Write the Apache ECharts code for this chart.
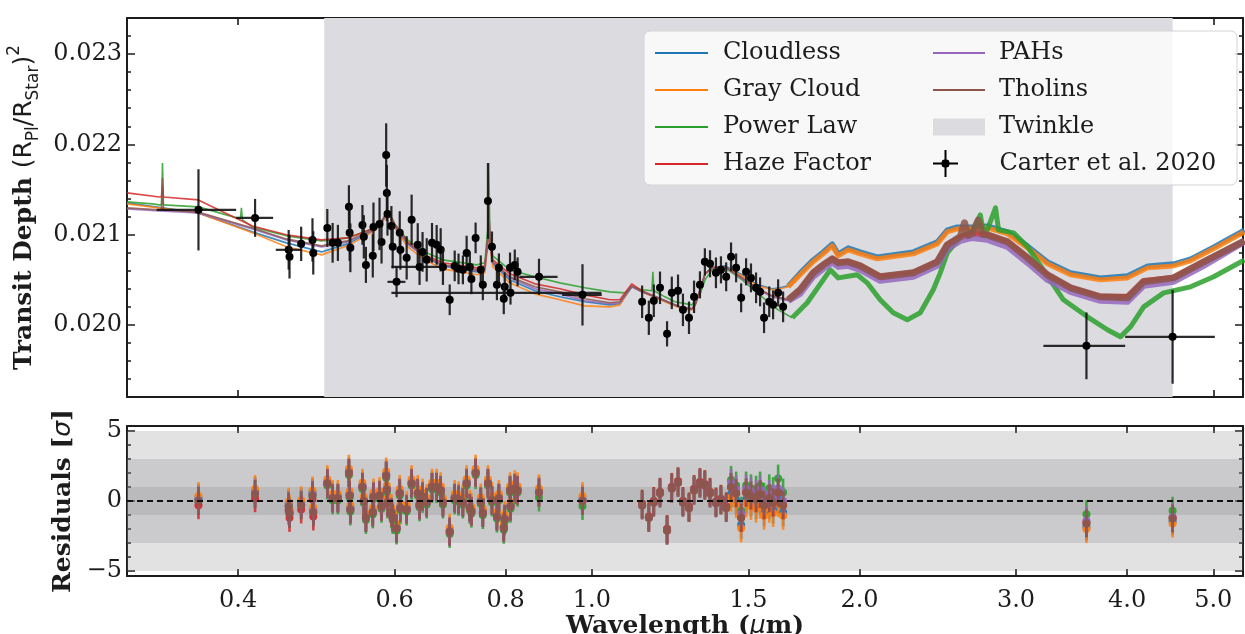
<!DOCTYPE html>
<html>
<head>
<meta charset="utf-8">
<script src="https://cdn.jsdelivr.net/npm/echarts@6/dist/echarts.min.js"></script>
<style>
  html, body { margin: 0; padding: 0; background: #ffffff; }
  #chart { width: 1245px; height: 634px; }
</style>
</head>
<body>
<div id="chart"></div>
<script>
// ---------------------------------------------------------------------------
// Transmission spectrum: six atmosphere models, Carter et al. 2020 data,
// and the residuals of the data against every model (in sigma).
// Model spectra: [wavelength (um), transit depth]
// ---------------------------------------------------------------------------
const cloudless = [
  [0.300,0.021351],[0.3608,0.021240],[0.4151,0.021030],[0.4533,0.020908],[0.4965,0.020808],[0.5312,0.020897],
  [0.5697,0.021052],[0.5816,0.021152],[0.5876,0.021229],[0.5937,0.021196],[0.6000,0.021096],[0.6206,0.020897],
  [0.6486,0.020753],[0.6796,0.020653],[0.7422,0.020587],[0.7578,0.020609],[0.7636,0.020919],[0.7657,0.021296],
  [0.7677,0.020919],[0.7737,0.020676],[0.8085,0.020498],[0.8627,0.020377],[0.9204,0.020310],[0.9820,0.020255],
  [1.0478,0.020221],[1.0753,0.020233],[1.1092,0.020421],[1.1385,0.020365],[1.1868,0.020299],[1.2303,0.020233],
  [1.2628,0.020188],[1.2962,0.020177],[1.3063,0.020221],[1.3231,0.020377],[1.3407,0.020565],[1.3648,0.020631],
  [1.4119,0.020653],[1.4755,0.020554],[1.5377,0.020443],[1.5946,0.020399],[1.6283,0.020410],[1.6631,0.020432],
  [1.7150,0.020576],[1.7739,0.020720],[1.8205,0.020808],[1.8636,0.020897],[1.8928,0.020786],[1.9425,0.020853],
  [2.0035,0.020808],[2.0938,0.020753],[2.2987,0.020808],[2.4463,0.020919],[2.5105,0.021052],[2.5765,0.021085],
  [2.6786,0.021085],[2.7849,0.021096],[2.9345,0.021030],[3.0903,0.020875],[3.2539,0.020698],[3.4539,0.020576],
  [3.733,0.020520],[4.004,0.020543],[4.217,0.020653],[4.511,0.020676],[4.715,0.020731],[5.005,0.020864],[5.42,0.021052]
];
const grayCloud = [
  [0.300,0.021340],[0.3608,0.021240],[0.4151,0.021019],[0.4533,0.020864],[0.4965,0.020775],[0.5312,0.020875],
  [0.5697,0.021041],[0.5816,0.021141],[0.5876,0.021218],[0.5937,0.021185],[0.6000,0.021074],[0.6206,0.020864],
  [0.6486,0.020720],[0.6796,0.020620],[0.7422,0.020554],[0.7578,0.020576],[0.7636,0.020886],[0.7657,0.021274],
  [0.7677,0.020886],[0.7737,0.020642],[0.8085,0.020465],[0.8627,0.020343],[0.9204,0.020277],[0.9820,0.020210],
  [1.0478,0.020199],[1.0753,0.020221],[1.1092,0.020432],[1.1385,0.020365],[1.1868,0.020288],[1.2303,0.020221],
  [1.2628,0.020177],[1.2962,0.020166],[1.3063,0.020210],[1.3231,0.020377],[1.3407,0.020565],[1.3648,0.020631],
  [1.4119,0.020642],[1.4755,0.020543],[1.5377,0.020432],[1.5946,0.020388],[1.6283,0.020399],[1.6631,0.020421],
  [1.7150,0.020554],[1.7739,0.020698],[1.8205,0.020786],[1.8636,0.020875],[1.8928,0.020764],[1.9425,0.020831],
  [2.0035,0.020786],[2.0938,0.020731],[2.2987,0.020786],[2.4463,0.020897],[2.5105,0.021030],[2.5765,0.021063],
  [2.6786,0.021063],[2.7849,0.021074],[2.9345,0.021008],[3.0903,0.020853],[3.2539,0.020676],[3.4539,0.020554],
  [3.733,0.020498],[4.004,0.020520],[4.217,0.020631],[4.511,0.020653],[4.715,0.020709],[5.005,0.020842],[5.42,0.021030]
];
const powerLaw = [
  [0.300,0.021362],[0.3203,0.021340],[0.3263,0.021329],[0.3280,0.021329],[0.3289,0.021794],[0.3297,0.021329],
  [0.3608,0.021307],[0.4024,0.021174],[0.4035,0.021296],[0.4045,0.021163],[0.4151,0.021085],[0.4533,0.020986],
  [0.4965,0.020930],[0.5312,0.020963],[0.5697,0.021074],[0.5816,0.021163],[0.5876,0.021240],[0.5937,0.021207],
  [0.6000,0.021118],[0.6206,0.020941],[0.6486,0.020808],[0.6796,0.020720],[0.7422,0.020664],[0.7578,0.020687],
  [0.7636,0.021052],[0.7657,0.021794],[0.7677,0.021052],[0.7737,0.020764],[0.8085,0.020609],[0.8627,0.020532],
  [0.9204,0.020465],[0.9820,0.020410],[1.0478,0.020365],[1.0894,0.020354],[1.1092,0.020421],[1.1385,0.020388],
  [1.1683,0.020377],[1.1712,0.020587],[1.1744,0.020377],[1.2085,0.020310],[1.2400,0.020255],[1.2962,0.020221],
  [1.3231,0.020332],[1.3407,0.020498],[1.3648,0.020609],[1.4119,0.020631],[1.4755,0.020498],[1.5538,0.020310],
  [1.6199,0.020166],[1.6804,0.020078],
  [1.7467,0.020244],[1.8539,0.020609],[1.8928,0.020520],[1.9879,0.020554],[2.0402,0.020465],[2.110,0.020277],
  [2.1826,0.020133],[2.2632,0.020055],[2.3408,0.020133],[2.4210,0.020388],[2.4653,0.020576],[2.5105,0.020797],
  [2.597,0.020975],[2.6786,0.021030],[2.7348,0.021218],[2.7561,0.021030],[2.7849,0.021052],[2.8446,0.021296],
  [2.8667,0.021052],[2.9805,0.021019],[3.0903,0.020864],[3.2203,0.020609],[3.3918,0.020277],[3.609,0.020089],
  [3.801,0.019945],[3.932,0.019867],[4.035,0.019978],[4.175,0.020199],[4.397,0.020354],[4.715,0.020421],
  [5.005,0.020532],[5.42,0.020720]
];
const hazeFactor = [
  [0.300,0.021462],[0.3263,0.021417],[0.3280,0.021417],[0.3289,0.021539],[0.3297,0.021417],[0.3608,0.021384],
  [0.4151,0.021096],[0.4533,0.020997],[0.4965,0.020941],[0.5312,0.020963],[0.5697,0.021074],[0.5816,0.021163],
  [0.5876,0.021240],[0.5937,0.021207],[0.6000,0.021118],[0.6206,0.020919],[0.6486,0.020775],[0.6796,0.020687],
  [0.7422,0.020631],[0.7578,0.020653],[0.7636,0.020941],[0.7657,0.021318],[0.7677,0.020941],[0.7737,0.020720],
  [0.8085,0.020565],[0.8627,0.020454],[0.9204,0.020399],[0.9820,0.020332],[1.0478,0.020277],[1.0753,0.020277],
  [1.1092,0.020454],[1.1385,0.020377],[1.1868,0.020299],[1.2303,0.020233],[1.2628,0.020188],[1.2962,0.020177],
  [1.3063,0.020221],[1.3231,0.020377],[1.3407,0.020565],[1.3648,0.020631],[1.4119,0.020642],[1.4755,0.020520],
  [1.5377,0.020399],[1.5946,0.020321],[1.6631,0.020277],
  [1.7150,0.020388],[1.7739,0.020576],[1.8205,0.020664],[1.8636,0.020731],[1.8928,0.020687],[1.9425,0.020698],
  [2.0035,0.020653],[2.110,0.020532],[2.2987,0.020576],[2.4463,0.020698],[2.5105,0.020886],[2.597,0.020975],
  [2.6786,0.021008],[2.7849,0.020997],[2.9345,0.020919],[3.0903,0.020742],[3.2539,0.020554],[3.4539,0.020410],
  [3.733,0.020310],[4.004,0.020310],[4.175,0.020487],[4.511,0.020520],[4.877,0.020698],[5.42,0.020930]
];
const pahs = [
  [0.300,0.021285],[0.3263,0.021262],[0.3608,0.021240],[0.4151,0.021063],[0.4533,0.020941],[0.4965,0.020864],
  [0.5312,0.020919],[0.5697,0.021052],[0.5816,0.021152],[0.5876,0.021229],[0.5937,0.021196],[0.6000,0.021096],
  [0.6206,0.020897],[0.6486,0.020753],[0.6796,0.020653],[0.7422,0.020598],[0.7578,0.020620],[0.7636,0.020930],
  [0.7657,0.021318],[0.7677,0.020930],[0.7737,0.020687],[0.8085,0.020520],[0.8627,0.020399],[0.9204,0.020343],
  [0.9820,0.020266],[1.0478,0.020233],[1.0753,0.020244],[1.1092,0.020421],[1.1385,0.020365],[1.1868,0.020299],
  [1.2303,0.020233],[1.2628,0.020188],[1.2962,0.020177],[1.3063,0.020221],[1.3231,0.020377],[1.3407,0.020565],
  [1.3648,0.020631],[1.4119,0.020642],[1.4755,0.020509],[1.5377,0.020388],[1.5946,0.020310],[1.6631,0.020266],
  [1.7150,0.020343],[1.7739,0.020532],[1.8205,0.020620],[1.8636,0.020687],[1.8928,0.020642],[1.9425,0.020653],
  [2.0035,0.020609],[2.110,0.020487],[2.2987,0.020532],[2.4463,0.020653],[2.5105,0.020842],[2.597,0.020930],
  [2.6786,0.020963],[2.7849,0.020941],[2.9345,0.020864],[3.0903,0.020687],[3.2539,0.020498],[3.4539,0.020365],
  [3.733,0.020266],[4.004,0.020255],[4.175,0.020432],[4.511,0.020476],[4.877,0.020653],[5.42,0.020919]
];
const tholins = [
  [0.300,0.021296],[0.3263,0.021274],[0.3280,0.021274],[0.3289,0.021628],[0.3297,0.021274],[0.3608,0.021251],
  [0.4151,0.021074],[0.4533,0.020952],[0.4965,0.020875],[0.5312,0.020930],[0.5697,0.021063],[0.5816,0.021163],
  [0.5876,0.021240],[0.5937,0.021207],[0.6000,0.021107],[0.6206,0.020908],[0.6486,0.020764],[0.6796,0.020664],
  [0.7422,0.020609],[0.7578,0.020631],[0.7636,0.020941],[0.7657,0.021329],[0.7677,0.020941],[0.7737,0.020698],
  [0.8085,0.020532],[0.8627,0.020421],[0.9204,0.020365],[0.9820,0.020288],[1.0478,0.020244],[1.0753,0.020255],
  [1.1092,0.020432],[1.1385,0.020365],[1.1868,0.020299],[1.2303,0.020233],[1.2628,0.020188],[1.2962,0.020177],
  [1.3063,0.020221],[1.3231,0.020377],[1.3407,0.020565],[1.3648,0.020631],[1.4119,0.020642],[1.4755,0.020520],
  [1.5377,0.020399],[1.5946,0.020321],[1.6631,0.020277],
  [1.7150,0.020388],[1.7739,0.020576],[1.8205,0.020664],[1.8636,0.020731],[1.8928,0.020687],[1.9425,0.020698],
  [2.0035,0.020653],[2.110,0.020532],[2.2987,0.020576],[2.4463,0.020698],[2.5105,0.020886],[2.597,0.020975],
  [2.625,0.021130],[2.65,0.020990],[2.6786,0.021008],[2.72,0.021160],[2.75,0.021000],[2.7849,0.020997],
  [2.9345,0.020919],[3.0903,0.020742],[3.2539,0.020554],[3.4539,0.020410],[3.733,0.020310],[4.004,0.020299],
  [4.175,0.020476],[4.511,0.020520],[4.877,0.020698],[5.42,0.020930]
];

// Carter et al. 2020 transmission spectrum
const carterWave = [
  0.361,0.418,0.456,0.457,0.471,0.485,0.486,0.504,0.511,0.518,
  0.533,0.534,0.535,0.552,0.554,0.557,0.567,0.568,0.580,0.577,
  0.587,0.588,0.589,0.595,0.597,0.603,0.608,0.609,0.619,0.627,
  0.637,0.640,0.645,0.652,0.661,0.669,0.676,0.680,0.692,0.701,
  0.708,0.716,0.723,0.729,0.732,0.740,0.750,0.754,0.764,0.772,
  0.782,0.786,0.798,0.810,0.796,0.809,0.819,0.825,0.872,0.976,
  1.139,1.159,1.174,1.193,1.215,1.230,1.250,1.266,1.286,1.303,
  1.323,1.340,1.358,1.379,1.397,1.416,1.434,1.453,1.472,1.491,
  1.510,1.530,1.546,1.562,1.583,1.599,1.620,1.641,3.6,4.5
];
const carterWaveErr = [
  0.037,0.020,0.015,0,0,0,0,0,0,0,
  0,0,0,0,0,0,0,0,0,0,
  0,0,0,0,0,0.014,0,0,0,0,
  0,0.045,0,0,0,0,0,0,0,0,
  0,0,0,0,0,0,0,0,0,0,
  0,0,0,0.215,0,0,0,0,0.043,0.050,
  0,0,0,0,0,0,0,0,0,0,
  0,0,0,0,0,0,0,0,0,0,
  0,0,0,0,0,0,0,0,0.38,0.52
];
const carterDepth = [
  0.021274,0.021185,0.020831,0.020753,0.020897,0.020941,0.020797,0.021074,0.020908,0.020908,
  0.021307,0.021019,0.020853,0.021107,0.020975,0.020664,0.020764,0.021085,0.020919,0.021118,
  0.021883,0.021462,0.021229,0.021096,0.020864,0.020476,0.021019,0.020831,0.020742,0.021163,
  0.020886,0.020642,0.020808,0.020720,0.020908,0.020886,0.020831,0.020642,0.020277,0.020653,
  0.020620,0.020609,0.020797,0.020642,0.020509,0.020963,0.020609,0.020443,0.021373,0.020864,
  0.020443,0.020631,0.020421,0.020354,0.020288,0.020631,0.020664,0.020587,0.020532,0.020332,
  0.020255,0.020078,0.020266,0.020410,0.019900,0.020354,0.020377,0.020166,0.020078,0.020310,
  0.020443,0.020698,0.020676,0.020576,0.020609,0.020532,0.020753,0.020631,0.020299,0.020587,
  0.020520,0.020410,0.020365,0.020078,0.020255,0.020221,0.020354,0.020199,0.019767,0.019867
];
const carterDepthErr = [
  0.00045,0.00021,0.00022,0.00024,0.00019,0.00024,0.00024,0.00021,0.00022,0.00020,
  0.00024,0.00031,0.00027,0.00022,0.00024,0.00020,0.00024,0.00027,0.00024,0.00029,
  0.00035,0.00031,0.00024,0.00022,0.00024,0.00017,0.00024,0.00022,0.00024,0.00028,
  0.00024,0.00020,0.00022,0.00024,0.00022,0.00022,0.00024,0.00020,0.00017,0.00017,
  0.00017,0.00016,0.00019,0.00017,0.00017,0.00017,0.00016,0.00017,0.00042,0.00017,
  0.00017,0.00016,0.00016,0.00013,0.00017,0.00017,0.00017,0.00016,0.00020,0.00034,
  0.00018,0.00019,0.00018,0.00018,0.00014,0.00018,0.00018,0.00018,0.00018,0.00018,
  0.00015,0.00015,0.00015,0.00017,0.00015,0.00016,0.00016,0.00016,0.00016,0.00015,
  0.00016,0.00017,0.00016,0.00017,0.00017,0.00016,0.00015,0.00017,0.00037,0.00052
];

// Residuals of each data point against each model, in sigma
const residCloudless = [
  0.2,0.7,-0.2,-0.7,-0.1,0.6,-0.6,
  1.35,0.3,0.3,2.1,0.5,-0.5,1.1,0.1,-1.1,-0.7,0.4,-0.3,0.5,1.9,0.9,0.0,-0.7,-1.1,-1.85,0.65,
  -0.4,-0.5,1.35,0.65,-0.2,0.4,0.0,1.1,1.1,0.85,0.0,-2.1,0.3,0.2,0.0,1.35,-0.4,-0.65,2.1,0.05,
  -0.75,1.35,0.15,-1.0,0.3,-1.2,-0.3,-1.8,0.85,1.0,0.85,
  0.75,0.15,
  -0.3,-1.2,-0.1,0.55,-2.1,0.9,1.3,-0.1,-0.5,0.75,1.25,1.1,0.55,-0.15,0.05,-0.5,
  0.5,0.05,-1.7,0.1,-0.1,-0.3,0.0,-0.8,-0.3,-0.6,0.1,-0.8,
  -1.85,-1.45
];
const residGrayCloud = [
  0.35,0.85,-0.05,-0.55,0.05,0.75,-0.45,
  1.55,0.5,0.5,2.3,0.7,-0.3,1.3,0.3,-0.9,-0.5,0.6,-0.1,0.7,2.1,1.1,0.2,-0.5,-0.9,-1.65,0.85,
  -0.2,-0.3,1.55,0.85,0.0,0.6,0.2,1.3,1.3,1.05,0.2,-1.9,0.5,0.4,0.2,1.55,-0.2,-0.45,2.3,0.25,
  -0.55,1.55,0.35,-0.8,0.5,-1.0,-0.1,-1.6,1.05,1.2,1.05,
  0.9,0.35,
  -0.3,-1.2,-0.1,0.55,-2.1,0.9,1.3,-0.1,-0.5,0.75,1.25,1.1,0.55,-0.15,0.05,-0.5,
  0.25,-0.2,-1.95,-0.15,-0.35,-0.55,-0.25,-1.05,-0.55,-0.85,-0.15,-1.05,
  -2.0,-1.6
];
const residPowerLaw = [
  0.0,0.5,-0.4,-0.9,-0.3,0.4,-0.8,
  1.1,0.05,0.05,1.85,0.25,-0.75,0.85,-0.15,-1.35,-0.95,0.15,-0.55,0.25,1.65,0.65,-0.25,-0.95,-1.35,-2.1,0.4,
  -0.65,-0.75,1.1,0.4,-0.45,0.15,-0.25,0.85,0.85,0.6,-0.25,-2.35,0.05,-0.05,-0.25,1.1,-0.65,-0.9,1.85,-0.2,
  -1.0,1.1,-0.1,-1.25,0.05,-1.45,-0.55,-2.05,0.6,0.75,0.6,
  0.25,-0.35,
  -0.2,-1.1,0.0,0.65,-2.0,1.0,1.4,0.0,-0.4,0.85,1.35,1.2,0.65,-0.05,0.15,-0.4,
  1.5,1.1,-0.7,1.1,0.9,0.8,1.1,0.3,0.9,0.7,1.6,0.6,
  -0.95,-0.7
];
const residHazeFactor = [
  -0.3,0.2,-0.7,-1.2,-0.6,0.1,-1.1,
  1.25,0.2,0.2,2.0,0.4,-0.6,1.0,0.0,-1.2,-0.8,0.3,-0.4,0.4,1.8,0.8,-0.1,-0.8,-1.2,-1.95,0.55,
  -0.5,-0.6,1.25,0.55,-0.3,0.3,-0.1,1.0,1.0,0.75,-0.1,-2.2,0.2,0.1,-0.1,1.25,-0.5,-0.75,2.0,-0.05,
  -0.85,1.25,0.05,-1.1,0.2,-1.3,-0.4,-1.9,0.75,0.9,0.75,
  0.6,0.0,
  -0.2,-1.1,0.0,0.65,-2.0,1.0,1.4,0.0,-0.4,0.85,1.35,1.2,0.65,-0.05,0.15,-0.4,
  1.0,0.55,-1.2,0.6,0.4,0.2,0.5,-0.3,0.2,-0.1,0.6,-0.3,
  -1.55,-1.2
];
const residPAHs = [
  0.05,0.55,-0.35,-0.85,-0.25,0.45,-0.75,
  1.25,0.2,0.2,2.0,0.4,-0.6,1.0,0.0,-1.2,-0.8,0.3,-0.4,0.4,1.8,0.8,-0.1,-0.8,-1.2,-1.95,0.55,
  -0.5,-0.6,1.25,0.55,-0.3,0.3,-0.1,1.0,1.0,0.75,-0.1,-2.2,0.2,0.1,-0.1,1.25,-0.5,-0.75,2.0,-0.05,
  -0.85,1.25,0.05,-1.1,0.2,-1.3,-0.4,-1.9,0.75,0.9,0.75,
  0.6,0.0,
  -0.3,-1.2,-0.1,0.55,-2.1,0.9,1.3,-0.1,-0.5,0.75,1.25,1.1,0.55,-0.15,0.05,-0.5,
  1.3,0.85,-0.9,0.9,0.7,0.5,0.8,0.0,0.5,0.2,0.9,0.0,
  -1.4,-1.15
];
const residTholins = [
  0.0,0.5,-0.4,-0.9,-0.3,0.4,-0.8,
  1.25,0.2,0.2,2.0,0.4,-0.6,1.0,0.0,-1.2,-0.8,0.3,-0.4,0.4,1.8,0.8,-0.1,-0.8,-1.2,-1.95,0.55,
  -0.5,-0.6,1.25,0.55,-0.3,0.3,-0.1,1.0,1.0,0.75,-0.1,-2.2,0.2,0.1,-0.1,1.25,-0.5,-0.75,2.0,-0.05,
  -0.85,1.25,0.05,-1.1,0.2,-1.3,-0.4,-1.9,0.75,0.9,0.75,
  0.6,0.0,
  -0.3,-1.2,-0.1,0.55,-2.1,0.9,1.3,-0.1,-0.5,0.75,1.25,1.1,0.55,-0.15,0.05,-0.5,
  1.0,0.55,-1.2,0.6,0.4,0.2,0.5,-0.3,0.2,-0.1,0.6,-0.3,
  -1.6,-1.25
];
const residSigma = 1;

// Twinkle wavelength coverage (um) and sigma bands of the residual panel
const twinkleRange = [0.5, 4.5];
const sigmaLevels = [5, 3, 1];

// Axis ranges and tick positions
const waveRange = [0.3, 5.4];
const depthRange = [0.0192, 0.0234];
const residRange = [-5.35, 5.35];
const waveTicks = [0.4, 0.6, 0.8, 1.0, 1.5, 2.0, 3.0, 4.0, 5.0];
const depthTicks = [0.020, 0.021, 0.022, 0.023];
const depthMinorTicks = [0.0192,0.0194,0.0196,0.0198,0.0200,0.0202,0.0204,0.0206,0.0208,0.0210,0.0212,
                         0.0214,0.0216,0.0218,0.0220,0.0222,0.0224,0.0226,0.0228,0.0230,0.0232,0.0234];
const residTicks = [-5, 0, 5];
const residMinorTicks = [-5, -4, -3, -2, -1, 0, 1, 2, 3, 4, 5];

// ---------------------------------------------------------------------------
const serif = 'DejaVu Serif';
const sans = 'DejaVu Sans';
const ink = '#1c1c1c';

const models = [
  { name: 'Cloudless',   data: cloudless,  resid: residCloudless,  color: '#1f77b4', irWidth: 5 },
  { name: 'Gray Cloud',  data: grayCloud,  resid: residGrayCloud,  color: '#ff7f0e', irWidth: 5 },
  { name: 'Power Law',   data: powerLaw,   resid: residPowerLaw,   color: '#2ca02c', irWidth: 5 },
  { name: 'Haze Factor', data: hazeFactor, resid: residHazeFactor, color: '#d62728', irWidth: 6 },
  { name: 'PAHs',        data: pahs,       resid: residPAHs,       color: '#9467bd', irWidth: 6 },
  { name: 'Tholins',     data: tholins,    resid: residTholins,    color: '#8c564b', irWidth: 7 }
];
const VIS_END = 1.72;   // thin optical segment ends here
const IR_START = 1.66;  // broad infrared segment starts here

const chart = echarts.init(document.getElementById('chart'));

function waveAxis(gridIndex, position, withLabels) {
  const ax = {
    type: 'log', logBase: 10, gridIndex: gridIndex, position: position,
    min: waveRange[0], max: waveRange[1],
    axisLine: { show: true, onZero: false, lineStyle: { color: ink, width: 2 } },
    axisTick: { show: true, inside: true, length: 7, customValues: waveTicks, lineStyle: { color: ink, width: 1.6 } },
    axisLabel: {
      show: withLabels, customValues: waveTicks, margin: 13,
      formatter: function (v) { return Number(v).toFixed(1); },
      fontFamily: serif, fontSize: 24, color: ink
    },
    splitLine: { show: false }, minorTick: { show: false }, minorSplitLine: { show: false }
  };
  if (withLabels) {
    ax.name = '{b|Wavelength (}{i|\u03bc}{b|m)}';
    ax.nameLocation = 'middle';
    ax.nameGap = 31;
    ax.nameTextStyle = {
      rich: {
        b: { fontFamily: serif, fontWeight: 'bold', fontSize: 25, color: ink },
        i: { fontFamily: sans, fontStyle: 'italic', fontSize: 25, color: ink }
      }
    };
  }
  return ax;
}

function valAxis(gridIndex, position, range, ticks, tickLen, showLine, labels) {
  return {
    type: 'value', gridIndex: gridIndex, position: position,
    min: range[0], max: range[1],
    axisLine: { show: showLine, onZero: false, lineStyle: { color: ink, width: 2 } },
    axisTick: { show: true, inside: true, length: tickLen, customValues: ticks, lineStyle: { color: ink, width: 1.5 } },
    axisLabel: labels ? Object.assign({ show: true, customValues: ticks, margin: 5, fontFamily: serif, fontSize: 24, color: ink }, labels)
                      : { show: false },
    splitLine: { show: false }, minorTick: { show: false }
  };
}

const depthLeft = valAxis(0, 'left', depthRange, depthTicks, 8, true, {
  formatter: function (v) { return Number(v).toFixed(3); }
});
depthLeft.name = '{b|Transit Depth }{s|(R}{sub|Pl}{s|/R}{sub|Star}{s|)}{sup|2}';
depthLeft.nameLocation = 'middle';
depthLeft.nameGap = 78;
depthLeft.nameTextStyle = {
  rich: {
    b: { fontFamily: serif, fontWeight: 'bold', fontSize: 25, color: ink, lineHeight: 36 },
    s: { fontFamily: sans, fontSize: 25, color: ink, lineHeight: 36 },
    sub: { fontFamily: sans, fontSize: 17, color: ink, lineHeight: 17, verticalAlign: 'bottom' },
    sup: { fontFamily: sans, fontSize: 17, color: ink, lineHeight: 17, verticalAlign: 'top' }
  }
};

const residLeft = valAxis(1, 'left', residRange, residTicks, 8, true, {
  formatter: function (v) { return v < 0 ? '\u2212' + Math.abs(v) : String(v); }
});
residLeft.name = '{b|Residuals [}{i|\u03c3}{b|]}';
residLeft.nameLocation = 'middle';
residLeft.nameGap = 44;
residLeft.nameTextStyle = {
  rich: {
    b: { fontFamily: serif, fontWeight: 'bold', fontSize: 25, color: ink },
    i: { fontFamily: sans, fontStyle: 'italic', fontSize: 25, color: ink }
  }
};

const series = [];

// Twinkle spectral coverage
series.push({
  type: 'custom', name: 'Twinkle', xAxisIndex: 0, yAxisIndex: 0, z: 1, silent: true, clip: false,
  itemStyle: { color: '#dcdbe0' },
  data: [twinkleRange],
  renderItem: function (params, api) {
    const cs = params.coordSys;
    const x1 = api.coord([api.value(0), depthRange[0]])[0];
    const x2 = api.coord([api.value(1), depthRange[0]])[0];
    return { type: 'rect', shape: { x: x1, y: cs.y, width: x2 - x1, height: cs.height },
             style: { fill: '#dcdbe0' } };
  }
});

// Model spectra: thin through the optical, broad through the infrared
models.forEach(function (m) {
  series.push({
    type: 'line', name: m.name, xAxisIndex: 0, yAxisIndex: 0, z: 2,
    data: m.data.filter(function (p) { return p[0] <= VIS_END; }),
    showSymbol: false, symbol: 'none', silent: true,
    itemStyle: { color: m.color },
    lineStyle: { color: m.color, width: 1.6, opacity: 0.85 }
  });
  series.push({
    type: 'line', name: m.name, xAxisIndex: 0, yAxisIndex: 0, z: 2,
    data: m.data.filter(function (p) { return p[0] >= IR_START; }),
    showSymbol: false, symbol: 'none', silent: true,
    itemStyle: { color: m.color },
    lineStyle: { color: m.color, width: m.irWidth, opacity: 0.85, join: 'round' }
  });
});

// Carter et al. 2020 data with error bars
series.push({
  type: 'custom', name: 'Carter et al. 2020', xAxisIndex: 0, yAxisIndex: 0, z: 3, silent: true,
  itemStyle: { color: '#000000' },
  encode: { x: 0, y: 1 },
  data: carterWave.map(function (w, i) { return [w, carterDepth[i], carterWaveErr[i], carterDepthErr[i]]; }),
  renderItem: function (params, api) {
    const w = api.value(0), d = api.value(1), we = api.value(2), de = api.value(3);
    const c = api.coord([w, d]);
    const t = api.coord([w, d + de]);
    const b = api.coord([w, d - de]);
    const bar = { stroke: 'rgba(20,20,20,0.9)', lineWidth: 2.2 };
    const kids = [{ type: 'line', shape: { x1: c[0], y1: t[1], x2: c[0], y2: b[1] }, style: bar }];
    if (we > 0) {
      const l = api.coord([w - we, d]);
      const r = api.coord([w + we, d]);
      kids.push({ type: 'line', shape: { x1: l[0], y1: c[1], x2: r[0], y2: c[1] }, style: bar });
    }
    kids.push({ type: 'circle', shape: { cx: c[0], cy: c[1], r: 4 }, style: { fill: '#000000' } });
    return { type: 'group', children: kids };
  }
});

// Residual panel: sigma bands
series.push({
  type: 'custom', name: 'sigma-bands', xAxisIndex: 2, yAxisIndex: 4, z: 1, silent: true, clip: false,
  data: sigmaLevels.map(function (s) { return [1, s]; }),
  renderItem: function (params, api) {
    const cs = params.coordSys;
    const s = api.value(1);
    const top = api.coord([1, s])[1];
    const bot = api.coord([1, -s])[1];
    return { type: 'rect', shape: { x: cs.x, y: top, width: cs.width, height: bot - top },
             style: { fill: 'rgba(128,128,132,0.23)' } };
  }
});

// Residual points for each model
models.forEach(function (m) {
  series.push({
    type: 'custom', name: m.name, xAxisIndex: 2, yAxisIndex: 4, z: 2, silent: true,
    itemStyle: { color: m.color },
    encode: { x: 0, y: 1 },
    data: m.resid.map(function (r, i) { return [carterWave[i], r]; }),
    renderItem: function (params, api) {
      const w = api.value(0), r = api.value(1);
      const c = api.coord([w, r]);
      const t = api.coord([w, r + residSigma]);
      const b = api.coord([w, r - residSigma]);
      return {
        type: 'group',
        children: [
          { type: 'line', shape: { x1: c[0], y1: t[1], x2: c[0], y2: b[1] },
            style: { stroke: m.color, lineWidth: 2.6, opacity: 0.85 } },
          { type: 'circle', shape: { cx: c[0], cy: c[1], r: 4 }, style: { fill: m.color, opacity: 0.95 } }
        ]
      };
    }
  });
});

// Residual zero line
series.push({
  type: 'custom', name: 'zero-line', xAxisIndex: 2, yAxisIndex: 4, z: 4, silent: true, clip: false,
  data: [[1, 0]],
  renderItem: function (params, api) {
    const cs = params.coordSys;
    const y = api.coord([1, api.value(1)])[1];
    return { type: 'line', shape: { x1: cs.x, y1: y, x2: cs.x + cs.width, y2: y },
             style: { stroke: '#111111', lineWidth: 1.8, lineDash: [6, 4] } };
  }
});

const legendText = { fontFamily: serif, fontSize: 24, color: ink, lineHeight: 26 };
const lineIcon = 'path://M0,0H53V2.2H0Z';
const plusIcon = 'path://M0,12.5H25V14.5H0Z M11.5,0H13.5V27H11.5Z M12.5,9L15.7,10.3L17,13.5L15.7,16.7L12.5,18L9.3,16.7L8,13.5L9.3,10.3Z';
function lineItems(names) {
  return names.map(function (n) { return { name: n, icon: lineIcon }; });
}

const option = {
  animation: false,
  backgroundColor: '#ffffff',
  grid: [
    { left: 127, right: 2, top: 18, height: 379, outerBoundsMode: 'none', containLabel: false },
    { left: 127, right: 2, top: 426, height: 150, outerBoundsMode: 'none', containLabel: false }
  ],
  xAxis: [
    waveAxis(0, 'bottom', false),
    waveAxis(0, 'top', false),
    waveAxis(1, 'bottom', true),
    waveAxis(1, 'top', false)
  ],
  yAxis: [
    depthLeft,
    valAxis(0, 'right', depthRange, depthTicks, 8, true, null),
    valAxis(0, 'left', depthRange, depthMinorTicks, 4, false, null),
    valAxis(0, 'right', depthRange, depthMinorTicks, 4, false, null),
    residLeft,
    valAxis(1, 'right', residRange, residTicks, 8, true, null),
    valAxis(1, 'left', residRange, residMinorTicks, 4, false, null),
    valAxis(1, 'right', residRange, residMinorTicks, 4, false, null)
  ],
  graphic: [{
    type: 'rect', z: 3, silent: true,
    shape: { x: 644, y: 31, width: 593, height: 154, r: 6 },
    style: { fill: 'rgba(255,255,255,0.8)', stroke: '#d4d4d4', lineWidth: 1 }
  }],
  legend: [
    { data: lineItems(['Cloudless', 'Gray Cloud', 'Power Law', 'Haze Factor']), orient: 'vertical',
      left: 650, top: 35, itemWidth: 53, itemHeight: 14, itemGap: 11, z: 5, selectedMode: false,
      textStyle: Object.assign({ padding: [0, 0, 0, 10] }, legendText) },
    { data: lineItems(['PAHs', 'Tholins']), orient: 'vertical',
      left: 928, top: 35, itemWidth: 52, itemHeight: 14, itemGap: 11, z: 5, selectedMode: false,
      textStyle: Object.assign({ padding: [0, 0, 0, 9] }, legendText) },
    { data: [{ name: 'Twinkle', icon: 'rect' }], orient: 'vertical',
      left: 928, top: 109, itemWidth: 52, itemHeight: 17, z: 5, selectedMode: false,
      textStyle: Object.assign({ padding: [0, 0, 0, 9] }, legendText) },
    { data: [{ name: 'Carter et al. 2020', icon: plusIcon }], orient: 'vertical',
      left: 928, top: 145, itemWidth: 52, itemHeight: 27, z: 5, selectedMode: false,
      textStyle: Object.assign({ padding: [0, 0, 0, 23] }, legendText) }
  ],
  series: series
};

chart.setOption(option);
</script>
</body>
</html>
